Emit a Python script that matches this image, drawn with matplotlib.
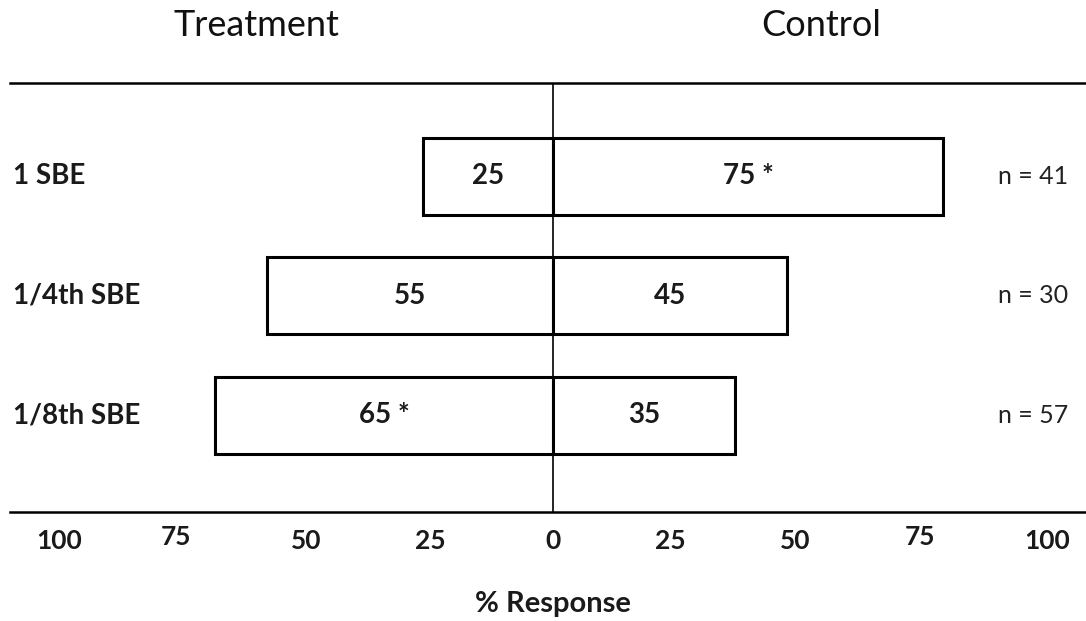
import numpy as np
import matplotlib
matplotlib.use('Agg')
import matplotlib.pyplot as plt
import matplotlib.transforms as mtransforms

plt.rcParams['font.family'] = ['Lato', 'DejaVu Sans']

groups = ['1 SBE', '1/4th SBE', '1/8th SBE']
treatment = [25, 55, 65]
control = [75, 45, 35]
treat_labels = ['25', '55', '65 *']
ctrl_labels = ['75 *', '45', '35']
n_labels = ['n = 41', 'n = 30', 'n = 57']
tick_pos = [-95, -72.5, -47.5, -23.5, 0, 22.5, 46.5, 70.5, 95]
tick_text = ['100', '75', '50', '25', '0', '25', '50', '75', '100']

fig = plt.figure(figsize=(10.86, 6.21), dpi=100)
ax = fig.add_axes([10 / 1086, 109 / 621, 1076 / 1086, 429 / 621])

y = np.arange(len(groups))
ax.barh(y, [-v for v in treatment], height=0.645, color='white', edgecolor='black', linewidth=2.2)
ax.barh(y, control, height=0.645, color='white', edgecolor='black', linewidth=2.2)
ax.axvline(0, color='black', linewidth=1.2, zorder=3)

for i in range(len(groups)):
    ax.text(-treatment[i] / 2, y[i], treat_labels[i], ha='center', va='center',
            fontsize=20, fontweight='bold', color='#1a1a1a')
    ax.text(control[i] / 2, y[i], ctrl_labels[i], ha='center', va='center',
            fontsize=20, fontweight='bold', color='#1a1a1a')
    ax.text(92.3, y[i], n_labels[i], ha='center', va='center', fontsize=18, color='#222222')

lab_tr = mtransforms.blended_transform_factory(fig.transFigure, ax.transData)
for i, g in enumerate(groups):
    ax.text(13 / 1086, y[i], g, transform=lab_tr, ha='left', va='center',
            fontsize=20, fontweight='bold', color='#1a1a1a')

ax.set_xlim(-543 / 5.2, 533 / 5.2)
ax.set_ylim(2.81, -0.78)
ax.set_yticks([])
ax.set_xticks(tick_pos, tick_text)
ax.tick_params(axis='x', length=0, pad=12, labelsize=19)
for lbl in ax.get_xticklabels():
    lbl.set_fontweight('bold')
    lbl.set_color('#1a1a1a')
    if lbl.get_text() == '75':
        lbl.set_transform(lbl.get_transform() + mtransforms.ScaledTranslation(0, 4 / 100, fig.dpi_scale_trans))

for s in ['left', 'right']:
    ax.spines[s].set_visible(False)
for s in ['top', 'bottom']:
    ax.spines[s].set_linewidth(1.8)

resp_tr = mtransforms.blended_transform_factory(ax.transData, fig.transFigure)
ax.text(0, 1 - 604 / 621, '% Response', transform=resp_tr, ha='center', va='center',
        fontsize=21, fontweight='bold', color='#1a1a1a')

fig.text(256 / 1086, 1 - 26 / 621, 'Treatment', ha='center', va='center', fontsize=26, color='#111111')
fig.text(821 / 1086, 1 - 26 / 621, 'Control', ha='center', va='center', fontsize=26, color='#111111')

fig.savefig('out.png', dpi=100)
